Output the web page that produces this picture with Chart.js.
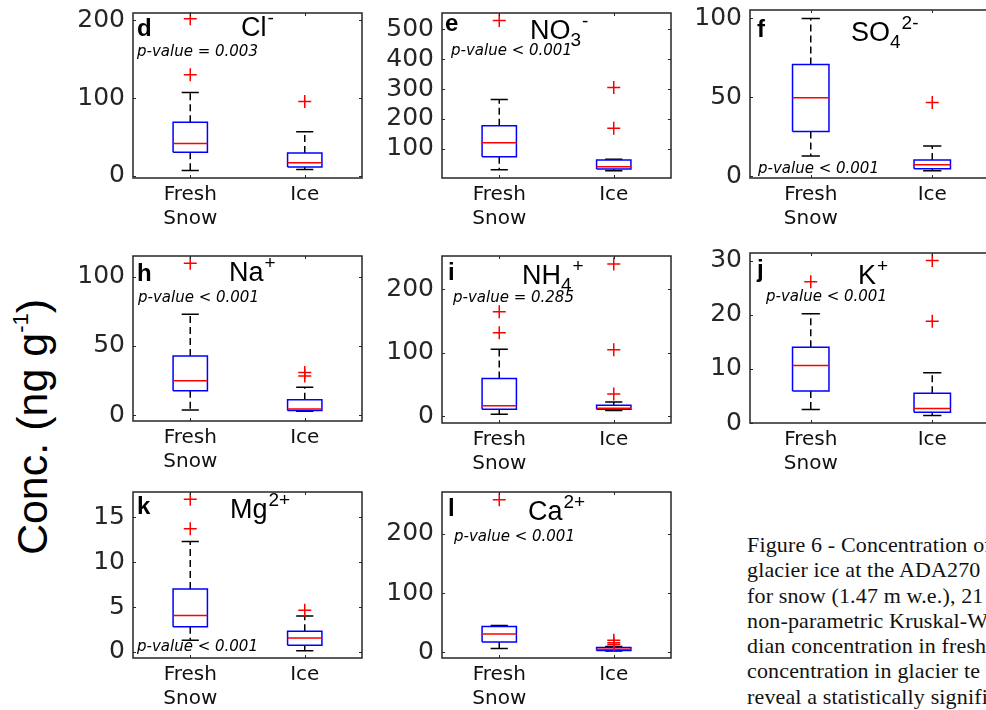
<!DOCTYPE html>
<html>
<head>
<meta charset="utf-8">
<script src="https://cdn.jsdelivr.net/npm/chart.js@4.4.1/dist/chart.umd.min.js"></script>
<style>
  html, body { margin: 0; padding: 0; background: #fff; }
  body { width: 986px; height: 710px; position: relative; overflow: hidden; }
  canvas { position: absolute; }
  #ylabel {
    position: absolute; left: 32px; top: 427px;
    transform: translate(-50%, -50%) rotate(-90deg);
    font: 43px "Liberation Sans", Arial, sans-serif; line-height: 1;
    white-space: nowrap; color: #000;
  }
  #ylabel span { font-size: 22px; vertical-align: 19px; }
  .cap {
    position: absolute; left: 747px; white-space: nowrap;
    font: 22px "Liberation Serif", serif; letter-spacing: 0.15px; line-height: 25px; color: #111;
  }
</style>
</head>
<body>
<div id="ylabel">Conc. (ng g<span>-1</span>)</div>
<div class="cap" style="top:532px">Figure 6 - Concentration of</div>
<div class="cap" style="top:557px">glacier ice at the ADA270 site</div>
<div class="cap" style="top:583px">for snow (1.47 m w.e.), 21 samples</div>
<div class="cap" style="top:608px">non-parametric Kruskal-Wallis</div>
<div class="cap" style="top:633px">dian concentration in fresh</div>
<div class="cap" style="top:658px">concentration in glacier te</div>
<div class="cap" style="top:684px">reveal a statistically significant</div>
<script>
const groupLabels = [['Fresh', 'Snow'], 'Ice'];
const groupPos = [1, 2];

const panelLetters = ['d', 'e', 'f', 'h', 'i', 'j', 'k', 'l'];
const ionNames = ['Cl', 'NO', 'SO', 'Na', 'NH', 'K', 'Mg', 'Ca'];
const ionSubs = ['', '3', '4', '', '4', '', '', ''];
const ionCharges = ['-', '-', '2-', '+', '+', '+', '2+', '2+'];
const pValues = ['p-value = 0.003', 'p-value < 0.001', 'p-value < 0.001', 'p-value < 0.001',
  'p-value = 0.285', 'p-value < 0.001', 'p-value < 0.001', 'p-value < 0.001'];

// box statistics per panel, [fresh snow, ice], ng g-1
const lowerWhisker = [[7, 8.3], [30, 26], [12.9, 3.6], [3.8, 2.9], [3.2, 9], [2.5, 1.4], [1.3, 0.15], [6.2, 1.7]];
const q1 = [[30.4, 11.7], [73, 32], [28.5, 4.9], [17.8, 3.4], [11, 11], [5.9, 2.0], [2.8, 0.74], [17, 2.8]];
const median = [[41.7, 17], [120, 40], [49.7, 7.4], [25, 4.6], [16.8, 12.6], [10.6, 2.7], [4.05, 1.55], [30.5, 5]];
const q3 = [[69, 29.6], [177, 62], [70.8, 10.4], [42.8, 11.3], [59.5, 17.4], [14, 5.5], [7.0, 2.3], [43.5, 7.9]];
const upperWhisker = [[107.4, 57], [265, 65], [100, 19.2], [72.8, 20.2], [105.8, 22.6], [20.2, 9.3], [12.3, 4.0], [45.2, 9.6]];
const outliers = [
  [[202, 130], [95.6]],
  [[530], [305, 169]],
  [[], [46.7]],
  [[109.6], [30.8, 28.4]],
  [[164.7, 131.6], [240, 105, 35]],
  [[26.1], [30, 18.8]],
  [[17, 13.7], [4.65]],
  [[258], [20, 16, 13]]
];

// y axes
const yMin = [-2.6, 2, -1, -4.1, -10.5, 0, -0.67, -10];
const yMax = [209.5, 555, 105.3, 114.9, 252.6, 31.4, 17.8, 271];
const yTicks = [[0, 100, 200], [100, 200, 300, 400, 500], [0, 50, 100], [0, 50, 100],
  [0, 100, 200], [0, 10, 20, 30], [0, 5, 10, 15], [0, 100, 200]];

// layout (page pixels): plot box left, top, right, bottom
const plotBoxes = [
  [133, 13, 362, 178], [442, 13, 671, 178], [750, 10, 993, 178],
  [133, 256, 362, 421], [442, 256, 671, 423], [750, 253, 993, 423],
  [133, 492, 362, 658], [442, 492, 671, 658]
];
const letterDx = [4, 3, 7, 4, 6, 7, 4, 6];
const letterDy = [23, 18, 27, 25, 24, 24, 22, 24];
const titleDx = [108, 88, 101, 96, 80, 108, 97, 86];
const titleDy = [23, 26, 31, 25, 28, 31, 26, 28];
const pDx = [4, 9, 8, 5, 11, 16, 4, 12];
const pDy = [43, 42, 163, 46, 46, 48, 159, 49];

const AXIS_W = 80, PAD_T = 30, PAD_R = 8, XAXIS_H = 60;
const BOX_HW = 0.15, CAP_HW = 0.075, TICK = 3;

const panelDecor = {
  id: 'panelDecor',
  afterDraw(chart, args, opts) {
    const i = opts.index;
    const { ctx, chartArea: a, scales } = chart;
    ctx.save();
    ctx.strokeStyle = '#262626';
    ctx.lineWidth = 1.5;
    ctx.strokeRect(a.left, a.top, a.right - a.left, a.bottom - a.top);

    ctx.lineWidth = 1;
    ctx.beginPath();
    scales.y.ticks.forEach(t => {
      const py = Math.round(scales.y.getPixelForValue(t.value)) + 0.5;
      ctx.moveTo(a.left, py); ctx.lineTo(a.left + TICK, py);
      ctx.moveTo(a.right, py); ctx.lineTo(a.right - TICK, py);
    });
    scales.x.ticks.forEach(t => {
      const px = Math.round(scales.x.getPixelForValue(t.value)) + 0.5;
      ctx.moveTo(px, a.bottom); ctx.lineTo(px, a.bottom - TICK);
      ctx.moveTo(px, a.top); ctx.lineTo(px, a.top + TICK);
    });
    ctx.stroke();

    ctx.fillStyle = '#000';
    ctx.textBaseline = 'alphabetic';
    ctx.font = 'bold 24px "Liberation Sans"';
    ctx.fillText(panelLetters[i], a.left + letterDx[i], a.top + letterDy[i]);

    let x = a.left + titleDx[i];
    const y = a.top + titleDy[i];
    ctx.font = '27px "Liberation Sans"';
    ctx.fillText(ionNames[i], x, y);
    x += ctx.measureText(ionNames[i]).width;
    ctx.font = '19px "Liberation Sans"';
    if (ionSubs[i]) {
      ctx.fillText(ionSubs[i], x, y + 7);
      x += ctx.measureText(ionSubs[i]).width;
    }
    ctx.fillText(ionCharges[i], x + 1, y - 12);

    ctx.font = 'italic 15px "DejaVu Sans"';
    ctx.fillText(pValues[i], a.left + pDx[i], a.top + pDy[i]);
    ctx.restore();
  }
};

function buildDatasets(i) {
  const boxPts = [], medPts = [], whiskPts = [], capPts = [], outPts = [];
  groupPos.forEach((g, k) => {
    const lo = lowerWhisker[i][k], a = q1[i][k], m = median[i][k], c = q3[i][k], hi = upperWhisker[i][k];
    boxPts.push({ x: g - BOX_HW, y: a }, { x: g + BOX_HW, y: a }, { x: g + BOX_HW, y: c },
      { x: g - BOX_HW, y: c }, { x: g - BOX_HW, y: a }, { x: g, y: null });
    medPts.push({ x: g - BOX_HW, y: m }, { x: g + BOX_HW, y: m }, { x: g, y: null });
    whiskPts.push({ x: g, y: c }, { x: g, y: hi }, { x: g, y: null },
      { x: g, y: a }, { x: g, y: lo }, { x: g, y: null });
    capPts.push({ x: g - CAP_HW, y: hi }, { x: g + CAP_HW, y: hi }, { x: g, y: null },
      { x: g - CAP_HW, y: lo }, { x: g + CAP_HW, y: lo }, { x: g, y: null });
    outliers[i][k].forEach(v => outPts.push({ x: g, y: v }));
  });
  const line = { showLine: true, pointRadius: 0, borderWidth: 1.5, fill: false, spanGaps: false, clip: false };
  return [
    { data: outPts, showLine: false, pointStyle: 'cross', pointRadius: 6.5, borderColor: '#ff0000', borderWidth: 1.5, clip: false },
    { ...line, data: medPts, borderColor: '#ff0000' },
    { ...line, data: boxPts, borderColor: '#0000ff' },
    { ...line, data: capPts, borderColor: '#000000' },
    { ...line, data: whiskPts, borderColor: '#000000', borderDash: [7, 4] }
  ];
}

panelLetters.forEach((letter, i) => {
  const [l, t, r, b] = plotBoxes[i];
  const w = r - l + AXIS_W + PAD_R;
  const h = b - t + PAD_T + XAXIS_H;
  const canvas = document.createElement('canvas');
  canvas.width = w;
  canvas.height = h;
  canvas.style.left = (l - AXIS_W) + 'px';
  canvas.style.top = (t - PAD_T) + 'px';
  canvas.style.width = w + 'px';
  canvas.style.height = h + 'px';
  document.body.appendChild(canvas);

  new Chart(canvas, {
    type: 'scatter',
    data: { datasets: buildDatasets(i) },
    plugins: [panelDecor],
    options: {
      responsive: false,
      animation: false,
      events: [],
      layout: { padding: { left: 0, top: PAD_T, right: PAD_R, bottom: 0 } },
      plugins: { legend: { display: false }, tooltip: { enabled: false }, panelDecor: { index: i } },
      scales: {
        x: {
          type: 'linear', min: 0.5, max: 2.5,
          grid: { display: false, drawTicks: false },
          border: { display: false },
          afterBuildTicks: s => { s.ticks = groupPos.map(v => ({ value: v })); },
          afterFit: s => { s.height = XAXIS_H; },
          ticks: {
            callback: (v, k) => groupLabels[k],
            color: '#111', padding: 5, maxRotation: 0, autoSkip: false,
            font: { family: 'DejaVu Sans', size: 20, lineHeight: 1.2 }
          }
        },
        y: {
          type: 'linear', min: yMin[i], max: yMax[i],
          grid: { display: false, drawTicks: false },
          border: { display: false },
          afterBuildTicks: s => { s.ticks = yTicks[i].map(v => ({ value: v })); },
          afterFit: s => { s.width = AXIS_W; },
          ticks: { color: '#262626', padding: 8, font: { family: 'DejaVu Sans', size: 25 } }
        }
      }
    }
  });
});
</script>
</body>
</html>
